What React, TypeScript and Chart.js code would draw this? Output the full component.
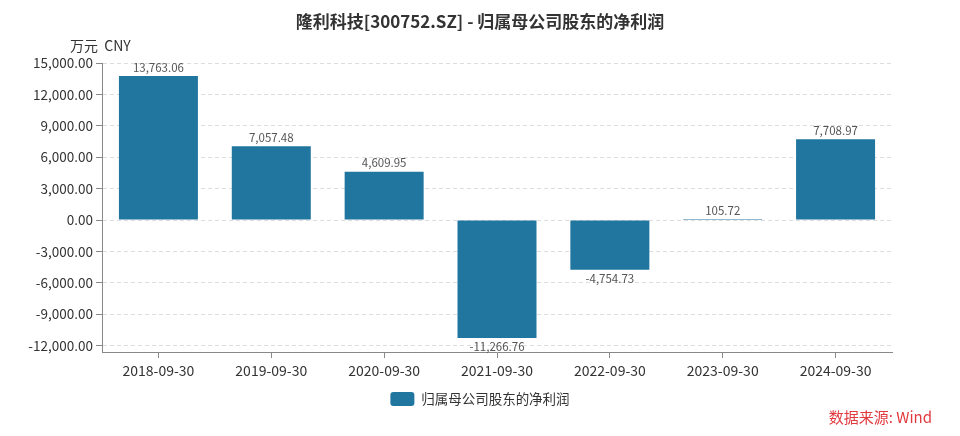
import React, { useEffect, useRef } from "react";
import { Chart, registerables } from "chart.js";

Chart.register(...registerables);

const categories = ["2018-09-30", "2019-09-30", "2020-09-30", "2021-09-30", "2022-09-30", "2023-09-30", "2024-09-30"];
const profitValues = [13763.06, 7057.48, 4609.95, -11266.76, -4754.73, 105.72, 7708.97];
const yTickValues = [-12000, -9000, -6000, -3000, 0, 3000, 6000, 9000, 12000, 15000];
const seriesName = "归属母公司股东的净利润";
const titleText = "隆利科技[300752.SZ] - 归属母公司股东的净利润";
const unitText = "万元  CNY";
const sourceText = "数据来源: Wind";

const FONT = "'Noto Sans CJK SC', 'Noto Sans', sans-serif";
const BAR_COLOR = "#21769f";

const fmt = (v: number) =>
  v.toLocaleString("en-US", { minimumFractionDigits: 2, maximumFractionDigits: 2 });

const decorPlugin = {
  id: "decor",
  afterLayout(chart: any) {
    const lg = chart.legend;
    if (lg) {
      const shift = chart.width / 2 - (lg.left + lg.right) / 2;
      lg.left += shift;
      lg.right += shift;
    }
  },
  afterDraw(chart: any) {
    const ctx = chart.ctx;
    ctx.save();
    // title
    ctx.fillStyle = "#333333";
    ctx.font = `bold 17px ${FONT}`;
    ctx.textAlign = "center";
    ctx.textBaseline = "middle";
    ctx.fillText(titleText, chart.width / 2, 22);
    // unit
    ctx.font = `14px ${FONT}`;
    ctx.textAlign = "left";
    ctx.fillText(unitText, 70, 46);
    // source
    ctx.fillStyle = "#e0393e";
    ctx.font = `15px ${FONT}`;
    ctx.textAlign = "right";
    ctx.fillText(sourceText, 932, 417);
    ctx.restore();
  },
  afterDatasetsDraw(chart: any) {
    const ctx = chart.ctx;
    const meta = chart.getDatasetMeta(0);
    const data = chart.data.datasets[0].data as number[];
    ctx.save();
    ctx.fillStyle = "#555555";
    ctx.font = `11.5px ${FONT}`;
    ctx.textAlign = "center";
    meta.data.forEach((el: any, i: number) => {
      const v = data[i];
      if (v >= 0) {
        ctx.textBaseline = "bottom";
        ctx.fillText(fmt(v), el.x, el.y - 3);
      } else {
        ctx.textBaseline = "top";
        ctx.fillText(fmt(v), el.x, el.y + 3);
      }
    });
    ctx.restore();
  },
};

export default function App() {
  const ref = useRef<HTMLCanvasElement | null>(null);

  useEffect(() => {
    if (!ref.current) return;
    const chart = new Chart(ref.current, {
      type: "bar",
      data: {
        labels: categories,
        datasets: [
          {
            label: seriesName,
            data: profitValues,
            backgroundColor: BAR_COLOR,
            borderWidth: 0,
            barPercentage: 0.7,
            categoryPercentage: 1,
          },
        ],
      },
      options: {
        responsive: false,
        animation: false,
        layout: { padding: { top: 63, right: 68, bottom: 20, left: 0 } },
        plugins: {
          title: { display: false },
          tooltip: { enabled: false },
          legend: {
            position: "bottom",
            labels: {
              boxWidth: 24,
              boxHeight: 14,
              useBorderRadius: true,
              borderRadius: 3,
              color: "#333333",
              padding: 10,
              font: { family: FONT, size: 13.5 },
            },
          },
        },
        scales: {
          x: {
            afterFit: (s: any) => {
              s.height = 30;
            },
            grid: {
              display: true,
              offset: false,
              drawOnChartArea: false,
              drawTicks: true,
              tickLength: 6,
              tickColor: "#888888",
            },
            border: { display: true, color: "#888888", width: 1 },
            ticks: {
              color: "#333333",
              padding: 4,
              maxRotation: 0,
              font: { family: FONT, size: 14 },
            },
          },
          y: {
            min: -12600,
            max: 15000,
            afterFit: (s: any) => {
              s.width = 102;
            },
            afterBuildTicks: (s: any) => {
              s.ticks = yTickValues.map((v) => ({ value: v }));
            },
            grid: {
              color: "#dddddd",
              drawTicks: true,
              tickLength: 6,
              tickColor: "#888888",
            },
            border: { display: true, color: "#888888", width: 1, dash: [4, 3] },
            ticks: {
              color: "#333333",
              padding: 3,
              font: { family: FONT, size: 13.5 },
              callback: (v: any) => fmt(Number(v)),
            },
          },
        },
      },
      plugins: [decorPlugin],
    });
    return () => chart.destroy();
  }, []);

  return (
    <div style={{ position: "fixed", left: 0, top: 0, width: 960, height: 436, background: "#fff" }}>
      <canvas ref={ref} width={960} height={436} style={{ display: "block" }} />
    </div>
  );
}
